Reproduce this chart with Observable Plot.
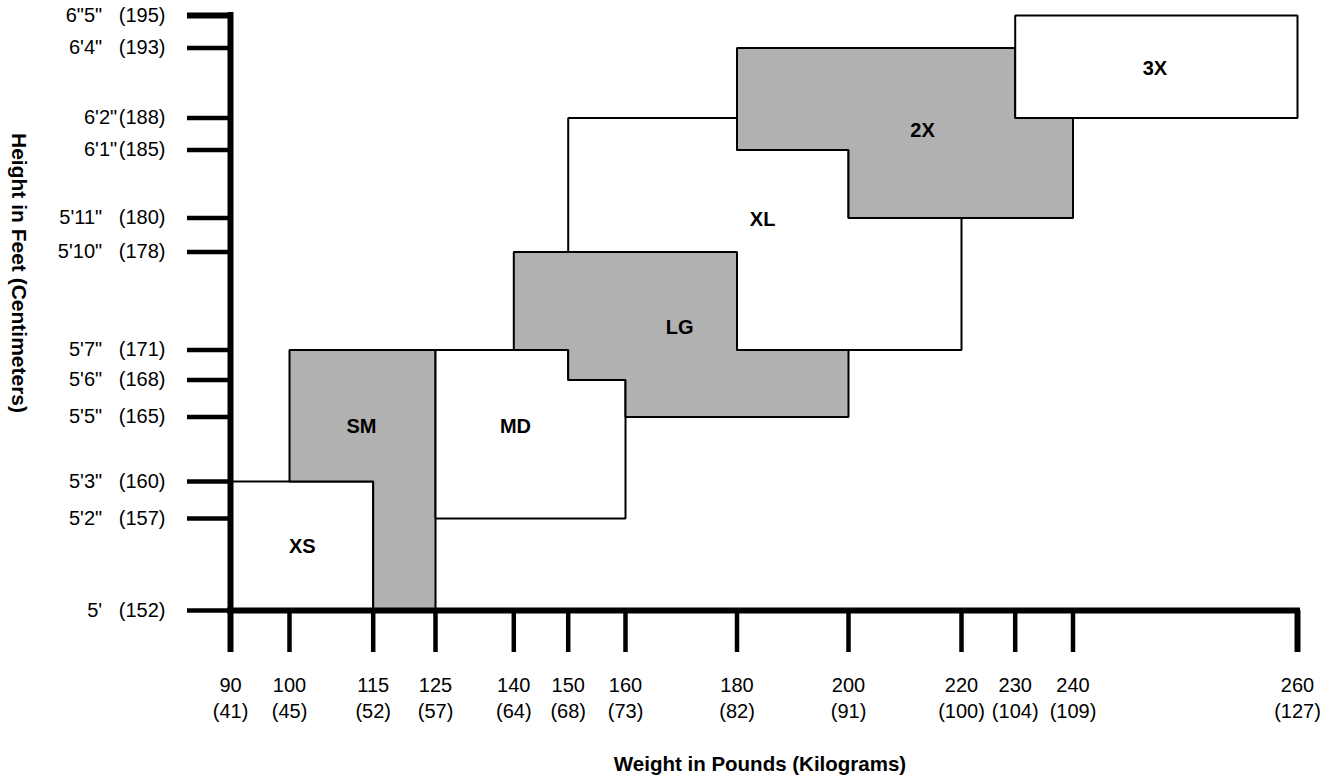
<!DOCTYPE html>
<html><head><meta charset="utf-8">
<script src="https://cdn.jsdelivr.net/npm/d3@7"></script>
<script src="https://cdn.jsdelivr.net/npm/@observablehq/plot@0.6"></script>
<style>
html,body{margin:0;padding:0;background:#fff;}
#chart svg{display:block;}
</style></head><body><div id="chart"></div>
<script>
// Size regions: outlines in [pounds, inches]
const sizes = ["XS", "SM", "MD", "LG", "XL", "2X", "3X"];
const xsOutline = [[90,60],[115,60],[115,63],[90,63]];
const smOutline = [[100,63],[115,63],[115,60],[125,60],[125,67],[100,67]];
const mdOutline = [[125,62],[160,62],[160,66],[150,66],[150,67],[125,67]];
const lgOutline = [[140,67],[150,67],[150,66],[160,66],[160,65],[200,65],[200,67],[180,67],[180,70],[140,70]];
const xlOutline = [[150,70],[180,70],[180,67],[220,67],[220,71],[200,71],[200,73],[180,73],[180,74],[150,74]];
const x2Outline = [[180,73],[200,73],[200,71],[240,71],[240,74],[230,74],[230,76],[180,76]];
const x3Outline = [[230,74],[260,74],[260,77],[230,77]];
const outlines = [xsOutline, smOutline, mdOutline, lgOutline, xlOutline, x2Outline, x3Outline];
const labelLb = [102.3, 112.9, 140.3, 169.7, 184.6, 213.1, 247.3];
const labelIn = [61.4, 64.7, 64.7, 67.7, 70.95, 73.6, 75.4];

// Axis ticks
const weightLb = [90, 100, 115, 125, 140, 150, 160, 180, 200, 220, 230, 240, 260];
const weightKg = [41, 45, 52, 57, 64, 68, 73, 82, 91, 100, 104, 109, 127];
const heightIn = [60, 62, 63, 65, 66, 67, 70, 71, 73, 74, 76, 77];
const NB = "\u00a0\u00a0\u00a0";
const HS = "\u200a";
const heightLabels = [
  "5'" + NB + "(152)", "5'2\"" + NB + "(157)", "5'3\"" + NB + "(160)", "5'5\"" + NB + "(165)",
  "5'6\"" + NB + "(168)", "5'7\"" + NB + "(171)", "5'10\"" + NB + "(178)", "5'11\"" + NB + "(180)",
  "6'1\"" + HS + "(185)", "6'2\"" + HS + "(188)", "6'4\"" + NB + "(193)", "6\"5\"" + NB + "(195)"
];
const xTitle = "Weight in Pounds (Kilograms)";
const yTitle = "Height in Feet (Centimeters)";

const kgOf = new Map(weightLb.map((d, i) => [d, weightKg[i]]));
const hLabelOf = new Map(heightIn.map((d, i) => [d, heightLabels[i]]));

const regionMarks = outlines.map((o, i) => Plot.line(o, {
  x: d => d[0], y: d => d[1], curve: "linear-closed",
  fill: i % 2 ? "#b1b1b1" : "white", stroke: "black", strokeWidth: 2, strokeLinejoin: "miter"
}));

const firstLb = weightLb[0], lastLb = weightLb[weightLb.length - 1];
const firstIn = heightIn[0], lastIn = heightIn[heightIn.length - 1];

const chart = Plot.plot({
  width: 1335,
  height: 784,
  marginLeft: 230,
  marginRight: 38,
  marginTop: 15,
  marginBottom: 174,
  style: {fontFamily: "'Liberation Sans', Arial, sans-serif", color: "black", background: "white"},
  x: {type: "linear", domain: weightLb, range: [230, 289, 372.7, 435, 513.3, 567.7, 625, 736.5, 848, 961, 1014.7, 1072.5, 1297]},
  y: {type: "linear", domain: heightIn, range: [610, 518, 481, 416.5, 379.5, 349.5, 251.5, 217.5, 149.5, 117.5, 47.5, 15]},
  marks: [
    ...regionMarks,
    Plot.text(sizes, {x: (d, i) => labelLb[i], y: (d, i) => labelIn[i], text: d => d, fontWeight: "bold", fontSize: 20}),
    Plot.axisX({ticks: weightLb, tickSize: 42, tickPadding: 21, strokeWidth: 4.5, fontSize: 20, lineHeight: 1.3,
      tickFormat: d => `${d}\n(${kgOf.get(d)})`, label: null}),
    Plot.axisX({ticks: [firstLb, lastLb], tickSize: 42, strokeWidth: 6, tickFormat: () => "", label: null}),
    Plot.axisY({ticks: heightIn, tickSize: 43, tickPadding: 22, strokeWidth: 4.5, fontSize: 20,
      tickFormat: d => hLabelOf.get(d), label: null}),
    Plot.axisY({ticks: [lastIn], tickSize: 43, strokeWidth: 6, tickFormat: () => "", label: null}),
    Plot.ruleX([firstLb], {y1: firstIn, y2: lastIn, strokeWidth: 6, strokeLinecap: "square"}),
    Plot.ruleY([firstIn], {x1: firstLb, x2: lastLb, strokeWidth: 6, strokeLinecap: "square"}),
    Plot.text([xTitle], {frameAnchor: "bottom", lineAnchor: "middle", dy: 154, dx: -4, fontWeight: "bold", fontSize: 20.5}),
    Plot.text([yTitle], {frameAnchor: "left", textAnchor: "middle", lineAnchor: "middle", rotate: 90, dx: -211.5, dy: -40, fontWeight: "bold", fontSize: 21})
  ]
});
document.getElementById("chart").appendChild(chart);
</script>
</body></html>
